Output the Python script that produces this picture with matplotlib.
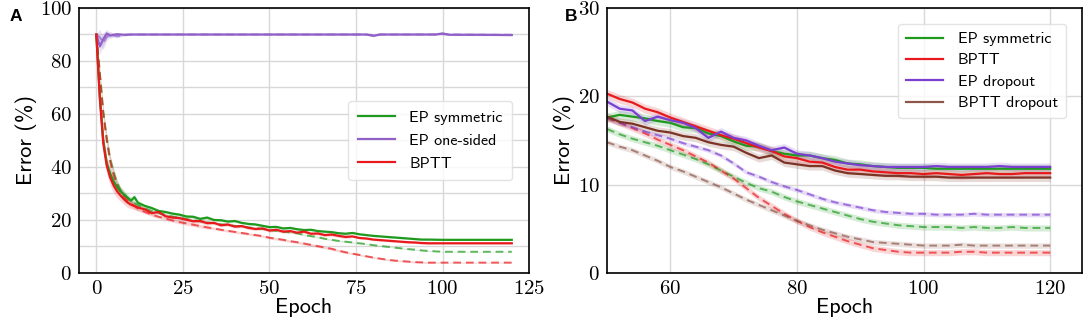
import numpy as np
import matplotlib
matplotlib.use('Agg')
import matplotlib.pyplot as plt
from matplotlib.ticker import MultipleLocator

# ---------------------------------------------------------------------------
# panel A: error over all epochs (solid = test, dashed = train)
ep_a = list(range(13)) + list(range(14, 97, 2)) + [100, 110, 120]

sym_test_a = [90, 67, 50, 41.5, 37.5, 34.5, 32.3, 30.8, 29.6, 28.4, 27.3, 28.6, 26.5,
              25.3, 24.5, 23.4, 23.0, 22.4, 22.0, 21.3, 21.2, 20.4, 20.9,
              20.0, 19.9, 19.4, 19.6, 18.9, 18.5, 18.3, 17.8, 17.3, 17.4,
              16.8, 17.0, 16.5, 16.2, 16.3, 15.8, 15.6, 15.4, 15.0, 14.8,
              15.1, 14.6, 14.3, 14.0, 13.8, 13.6, 13.4, 13.2, 13.0, 12.8,
              12.6, 12.6, 12.5, 12.5, 12.5]
bptt_test_a = [90, 66, 49, 40.5, 36, 33, 30.8, 29.2, 27.8, 26.6, 25.8, 25.3, 24.7,
               24.0, 22.6, 23.0, 21.4, 20.9, 20.7, 20.1, 19.5, 19.6, 18.8,
               18.9, 18.0, 18.3, 17.5, 17.7, 17.0, 16.6, 16.8, 16.0, 16.3,
               15.6, 15.8, 15.2, 15.6, 14.8, 14.9, 14.3, 14.5, 14.0, 13.6,
               13.8, 13.2, 13.0, 12.6, 12.4, 12.2, 12.0, 11.8, 11.6, 11.5,
               11.3, 11.2, 11.2, 11.2, 11.2]
sym_train_a = [90, 76, 61, 51, 43, 38, 34, 31.2, 29.6, 28.4, 27.3, 26.4, 25.6,
               24.4, 23.4, 22.6, 21.9, 21.3, 20.8, 20.3, 19.9, 19.5, 19.1,
               18.8, 18.4, 18.1, 17.8, 17.5, 17.2, 16.9, 16.6, 16.2, 15.9,
               15.6, 15.3, 15.0, 14.3, 13.9, 13.5, 12.9, 12.5, 12.1, 11.8,
               11.5, 11.2, 10.9, 10.5, 10.2, 9.9, 9.6, 9.3, 9.0, 8.8,
               8.5, 8.3, 8.0, 8.0, 8.0]
bptt_train_a = [90, 75, 60, 50, 42, 37, 33, 30.5, 28.8, 27.4, 26.2, 25.2, 24.3,
                23.0, 22.0, 21.2, 20.5, 19.8, 19.2, 18.7, 18.2, 17.7, 17.2,
                16.8, 16.3, 15.9, 15.5, 15.1, 14.7, 14.3, 13.9, 13.3, 12.9,
                12.5, 12.0, 11.6, 11.1, 10.6, 10.1, 9.6, 9.1, 8.4, 7.8,
                7.3, 6.8, 6.3, 5.8, 5.4, 5.0, 4.7, 4.5, 4.3, 4.1,
                4.0, 3.9, 3.9, 3.9, 3.9]
spread_a = [0.5, 2.5, 3.0, 3.0, 3.0, 2.8, 2.5, 2.2, 2.0, 1.8, 1.6, 1.4, 1.2] + [0.8] * 10 + \
           [0.6] * 20 + [0.4] * 12 + [0.2] * 3

ep_one = [0, 1, 2, 3, 4, 6, 8, 10, 20, 40, 60, 78, 80, 82, 98, 100, 102, 110, 120]
one_test_a = [90, 85.5, 88.2, 90.4, 89.6, 90.1, 89.9, 90, 90, 90, 90, 90, 89.5, 90,
              90, 90.4, 89.9, 89.9, 89.8]
one_train_a = [90, 89, 86.8, 89.0, 90.2, 89.3, 89.8, 90, 90, 90, 90, 90, 89.8, 90,
               90, 90.2, 90, 89.9, 89.9]
one_spread = [0.5, 3.0, 2.5, 1.5, 1.0, 0.6, 0.4, 0.2, 0.2, 0.2, 0.2, 0.2, 0.4, 0.2,
              0.2, 0.4, 0.3, 0.3, 0.3]

# ---------------------------------------------------------------------------
# panel B: zoom on epochs 50-120 with dropout runs
ep_b = list(range(50, 121, 2))

sym_test_b = [17.6, 17.9, 17.7, 17.5, 17.2, 17.0, 16.5, 16.4, 15.8, 15.5, 14.9, 14.4,
              14.3, 13.8, 13.5, 13.3, 13.3, 13.0, 12.8, 12.4, 12.3, 12.1, 12.0, 11.9,
              11.9, 11.9, 11.8, 11.8, 11.8, 11.8, 11.8, 11.8, 11.8, 11.8, 11.8, 11.8]
bptt_test_b = [20.3, 19.7, 19.3, 18.6, 18.2, 17.6, 17.1, 16.6, 16.1, 15.6, 15.2, 14.7,
               14.2, 13.8, 13.2, 13.0, 12.6, 12.5, 12.0, 11.7, 11.7, 11.5, 11.4, 11.3,
               11.3, 11.2, 11.3, 11.2, 11.1, 11.2, 11.3, 11.2, 11.2, 11.3, 11.3, 11.3]
epdrop_test_b = [19.4, 18.6, 18.4, 17.2, 17.7, 17.3, 17.0, 16.4, 15.3, 16.0, 15.3, 15.0,
                 14.4, 13.9, 14.2, 13.5, 13.3, 13.0, 12.6, 12.4, 12.2, 12.1, 12.0, 12.0,
                 12.0, 12.0, 12.1, 12.0, 12.0, 12.0, 12.0, 12.1, 12.0, 12.0, 12.0, 12.0]
bpdrop_test_b = [17.7, 17.1, 16.9, 16.5, 16.1, 15.9, 15.5, 15.3, 14.8, 14.5, 14.3, 13.6,
                 13.0, 13.3, 12.5, 12.3, 12.1, 12.1, 11.6, 11.3, 11.2, 11.1, 11.0, 11.0,
                 10.9, 10.9, 10.9, 10.8, 10.8, 10.8, 10.8, 10.8, 10.8, 10.8, 10.8, 10.8]

sym_train_b = [16.3, 15.7, 15.2, 14.8, 14.4, 13.9, 13.4, 12.9, 12.3, 11.6, 10.9, 10.2,
               9.6, 9.2, 8.6, 8.1, 7.7, 7.3, 6.9, 6.5, 6.1, 5.8, 5.6, 5.4,
               5.3, 5.2, 5.2, 5.2, 5.1, 5.2, 5.1, 5.1, 5.2, 5.1, 5.1, 5.1]
bptt_train_b = [17.5, 17.0, 16.4, 15.8, 15.1, 14.5, 13.9, 13.2, 12.5, 11.6, 10.7, 9.6,
                8.5, 7.6, 6.7, 5.9, 5.2, 4.6, 4.1, 3.6, 3.2, 2.8, 2.6, 2.4,
                2.3, 2.3, 2.3, 2.3, 2.4, 2.4, 2.3, 2.3, 2.3, 2.3, 2.3, 2.3]
epdrop_train_b = [17.6, 17.0, 16.5, 16.0, 15.6, 15.2, 14.7, 14.3, 13.9, 13.3, 12.4, 11.4,
                  10.9, 10.3, 9.8, 9.4, 8.9, 8.4, 8.0, 7.7, 7.4, 7.1, 6.9, 6.8,
                  6.7, 6.7, 6.6, 6.6, 6.6, 6.7, 6.6, 6.6, 6.6, 6.6, 6.6, 6.6]
bpdrop_train_b = [14.8, 14.3, 13.9, 13.3, 12.7, 12.0, 11.5, 10.9, 10.3, 9.7, 9.0, 8.3,
                  7.7, 7.1, 6.5, 5.9, 5.4, 4.9, 4.5, 4.1, 3.8, 3.5, 3.4, 3.3,
                  3.2, 3.1, 3.1, 3.1, 3.2, 3.1, 3.1, 3.1, 3.1, 3.1, 3.1, 3.1]

c_green = '#1f9a1f'
c_red = '#e8191c'
c_purple_a = '#9060c8'
c_purple = '#7b3fd0'
c_brown = '#7a3324'
c_brown_l = '#8c564b'

tick_font = 'cmr10'
label_font = 'cmss10'
plt.rcParams['axes.formatter.use_mathtext'] = True


def curve(ax, x, y, sd, color, dashed=False, label=None):
    x = np.asarray(x)
    y = np.asarray(y, dtype=float)
    sd = np.asarray(sd, dtype=float)
    ax.fill_between(x, y - sd, y + sd, color=color, alpha=0.18, lw=0)
    if dashed:
        ax.plot(x, y, '--', color=color, lw=1.4, alpha=0.7, dashes=(4, 2.5))
    else:
        ax.plot(x, y, '-', color=color, lw=1.6, label=label)


def style(ax):
    for s in ax.spines.values():
        s.set_linewidth(1.2)
        s.set_color('black')
    ax.tick_params(length=0, labelsize=15, pad=5)
    for lab in ax.get_xticklabels() + ax.get_yticklabels():
        lab.set_fontfamily(tick_font)
        lab.set_fontsize(15)
    ax.set_axisbelow(True)
    ax.set_xlabel('Epoch', family=label_font, fontsize=16, labelpad=0)
    ax.set_ylabel('Error (%)', family=label_font, fontsize=16, labelpad=2)


fig = plt.figure(figsize=(10.84, 3.2), dpi=100)
ax1 = fig.add_axes([0.0729, 0.147, 0.4152, 0.828])
ax2 = fig.add_axes([0.560, 0.147, 0.438, 0.828])

leg_kw = dict(prop={'family': label_font, 'size': 11.5}, handlelength=2.3,
              handletextpad=0.9, fancybox=True, framealpha=0.8, edgecolor='#dddddd')

# panel A
curve(ax1, ep_one, one_train_a, one_spread, c_purple_a, dashed=True)
curve(ax1, ep_a, sym_train_a, np.array(spread_a) * 0.5, c_green, dashed=True)
curve(ax1, ep_a, bptt_train_a, np.array(spread_a) * 0.8, c_red, dashed=True)
curve(ax1, ep_a, sym_test_a, np.array(spread_a) * 0.8, c_green, label='EP symmetric')
curve(ax1, ep_one, one_test_a, one_spread, c_purple_a, label='EP one-sided')
curve(ax1, ep_a, bptt_test_a, np.array(spread_a) * 1.0, c_red, label='BPTT')

ax1.set_xlim(-5, 125)
ax1.set_ylim(0, 100)
ax1.xaxis.set_major_locator(MultipleLocator(25))
ax1.yaxis.set_major_locator(MultipleLocator(20))
ax1.yaxis.set_minor_locator(MultipleLocator(10))
ax1.grid(True, which='both', color='#d8d8d8', lw=1.0)
ax1.tick_params(which='minor', length=0)
style(ax1)
ax1.legend(loc='center right', bbox_to_anchor=(0.98, 0.5),
           borderpad=0.6, labelspacing=0.55, **leg_kw)

# panel B
curve(ax2, ep_b, sym_train_b, 0.35, c_green, dashed=True)
curve(ax2, ep_b, bptt_train_b, 0.35, c_red, dashed=True)
curve(ax2, ep_b, epdrop_train_b, 0.25, c_purple, dashed=True)
curve(ax2, ep_b, bpdrop_train_b, 0.3, c_brown_l, dashed=True)
curve(ax2, ep_b, sym_test_b, 0.5, c_green, label='EP symmetric')
curve(ax2, ep_b, bptt_test_b, 0.5, c_red, label='BPTT')
curve(ax2, ep_b, epdrop_test_b, 0.45, c_purple, label='EP dropout')
curve(ax2, ep_b, bpdrop_test_b, 0.45, c_brown, label='BPTT dropout')

ax2.set_xlim(50, 125)
ax2.set_ylim(0, 30)
ax2.xaxis.set_major_locator(MultipleLocator(20))
ax2.yaxis.set_major_locator(MultipleLocator(10))
ax2.grid(True, color='#d8d8d8', lw=1.0)
style(ax2)
leg2 = ax2.legend(loc='upper right', bbox_to_anchor=(0.983, 0.97),
                  borderpad=0.5, labelspacing=0.45, **leg_kw)
for h, c in zip(leg2.legend_handles, [c_green, c_red, c_purple, c_brown_l]):
    h.set_color(c)

fig.text(0.009, 0.935, 'A', fontsize=12.5, fontweight='bold', family='Liberation Sans')
fig.text(0.521, 0.935, 'B', fontsize=12.5, fontweight='bold', family='Liberation Sans')

fig.savefig('out.png', dpi=100)
